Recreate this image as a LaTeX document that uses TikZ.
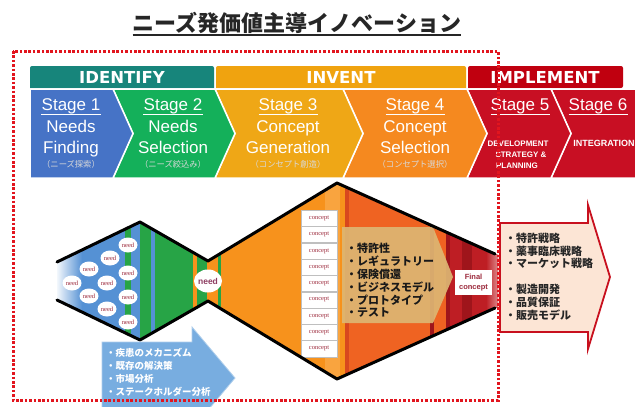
\documentclass[tikz,border=0pt]{standalone}
\usepackage{fontspec}
\setmainfont{Liberation Sans}
\newfontfamily\jp{Noto Sans CJK JP}
\newfontfamily\dvs{DejaVu Sans}
\newfontfamily\lser{Liberation Serif}
\usetikzlibrary{shapes.geometric}
\definecolor{hteal}{HTML}{17857B}
\definecolor{horange}{HTML}{F0A30F}
\definecolor{hred}{HTML}{C0000F}
\definecolor{sblue}{HTML}{4673C6}
\definecolor{sgreen}{HTML}{14B05A}
\definecolor{syellow}{HTML}{EFA716}
\definecolor{sorange}{HTML}{F5891F}
\definecolor{sred}{HTML}{C80F23}
\definecolor{fblue}{HTML}{5591D4}
\definecolor{fgreen}{HTML}{27A446}
\definecolor{forange}{HTML}{F7921C}
\definecolor{forangeL}{HTML}{F9A43F}
\definecolor{fred}{HTML}{EF6322}
\definecolor{fdark}{HTML}{D8471E}
\definecolor{fcrim}{HTML}{BE1E24}
\definecolor{fdeep}{HTML}{9F151B}
\definecolor{tanc}{HTML}{DDB673}
\definecolor{needred}{HTML}{9C2A3C}
\definecolor{needmauve}{HTML}{8E3E62}
\definecolor{pinkf}{HTML}{FCE5D5}
\definecolor{pinkb}{HTML}{C8101E}
\definecolor{barrow}{HTML}{78ADE0}
\definecolor{dotred}{HTML}{E2151E}
\tikzset{
  hdr/.style={font=\dvs\bfseries\fontsize{16.5}{18}\selectfont, text=white, inner sep=0pt},
  chev/.style={draw=white, line width=1.5pt, line join=miter},
  stg/.style={font=\fontsize{17}{20}\selectfont, text=white, inner sep=0pt},
  stgjp/.style={font=\jp\fontsize{8.3}{9}\selectfont, text=white!85!black, inner sep=0pt},
  stgsmall/.style={font=\bfseries\fontsize{8}{9}\selectfont, text=white, inner sep=0pt},
  uline/.style={draw=white, line width=1.1pt},
  needsm/.style={ellipse, fill=white, inner sep=0pt, minimum width=19pt, minimum height=15pt, font=\lser\fontsize{6.5}{7}\selectfont, text=needred},
  cbox/.style={rectangle, fill=white, draw=black!25, line width=.4pt, minimum width=36pt, minimum height=16.3pt, inner sep=0pt, font=\lser\fontsize{6.5}{7}\selectfont, text=needred},
  outline/.style={line width=3pt, line join=round, line cap=round, draw=black},
  tantext/.style={font=\jp\bfseries\fontsize{11}{12}\selectfont, text=black!90, inner sep=0pt, anchor=west},
  bluetext/.style={font=\jp\bfseries\fontsize{9.5}{11}\selectfont, text=white, inner sep=0pt, anchor=west},
  pinktext/.style={font=\jp\bfseries\fontsize{11}{12}\selectfont, text=black!85, inner sep=0pt, anchor=west}
}
\newcommand\stagelabel[6]{%
  \node[stg, anchor=base] (#1a) at (#2,110) {#3};
  \draw[uline] ([yshift=-4.8pt]#1a.base west) -- ([yshift=-4.8pt]#1a.base east);
  \node[stg, anchor=base] (#1b) at (#2,132) {#4};
  \node[stg, anchor=base] (#1c) at (#2,153) {#5};
  \node[stgjp, anchor=base] (#1d) at (#2,167) {#6};}
\begin{document}
\begin{tikzpicture}[x=1pt,y=-1pt]
\useasboundingbox (0,0) rectangle (635,407);
\begin{scope}
\clip (0,0) rectangle (635,407);
\fill[white] (0,0) rectangle (635,407);

% title
\node[font=\jp\bfseries\fontsize{22}{24}\selectfont, text=black!85, anchor=base, inner sep=0pt] (title) at (297,31) {ニーズ発価値主導イノベーション};
\draw[line width=1.3pt, black!85] ([yshift=-4pt]title.base west) -- ([yshift=-4pt]title.base east);

% header bars
\fill[hteal] (30,88) [rounded corners=2pt] -- (30,66) -- (214,66) [sharp corners] -- (214,88) -- cycle;
\fill[horange] (216,88) [rounded corners=2pt] -- (216,66) -- (466,66) [sharp corners] -- (466,88) -- cycle;
\fill[hred] (468,88) [rounded corners=2pt] -- (468,66) -- (623,66) -- (623,88) [sharp corners] -- cycle;
\node[hdr] (hid) at (122,77) {IDENTIFY};
\node[hdr] (hin) at (341,77) {INVENT};
\node[hdr] (him) at (545,77) {IMPLEMENT};

% chevrons
\path[chev, fill=sred] (551,89) -- (640,89) -- (640,178) -- (551,178) -- (571,133.5) -- cycle;
\path[chev, fill=sred] (467,89) -- (551,89) -- (571,133.5) -- (551,178) -- (467,178) -- (487,133.5) -- cycle;
\path[chev, fill=sorange] (343,89) -- (467,89) -- (487,133.5) -- (467,178) -- (343,178) -- (363,133.5) -- cycle;
\path[chev, fill=syellow] (215,89) -- (343,89) -- (363,133.5) -- (343,178) -- (215,178) -- (235,133.5) -- cycle;
\path[chev, fill=sgreen] (113,89) -- (215,89) -- (235,133.5) -- (215,178) -- (113,178) -- (133,133.5) -- cycle;
\path[chev, fill=sblue] (30,89) -- (113,89) -- (133,133.5) -- (113,178) -- (30,178) -- cycle;

\stagelabel{s1}{71}{Stage 1}{Needs}{Finding}{（ニーズ探索）}
\stagelabel{s2}{173}{Stage 2}{Needs}{Selection}{（ニーズ絞込み）}
\stagelabel{s3}{288}{Stage 3}{Concept}{Generation}{（コンセプト創造）}
\stagelabel{s4}{415}{Stage 4}{Concept}{Selection}{（コンセプト選択）}
\node[stg, anchor=base] (s5a) at (520,110) {Stage 5};
\draw[uline] ([yshift=-4.8pt]s5a.base west) -- ([yshift=-4.8pt]s5a.base east);
\node[stgsmall, anchor=base] (s5b) at (518,146) {DEVELOPMENT};
\node[stgsmall, anchor=base] (s5c) at (521,157) {STRATEGY \&};
\node[stgsmall, anchor=base] (s5d) at (517,168) {PLANNING};
\node[stg, anchor=base] (s6a) at (598,110) {Stage 6};
\draw[uline] ([yshift=-4.8pt]s6a.base west) -- ([yshift=-4.8pt]s6a.base east);
\node[stgsmall, anchor=base, font=\bfseries\fontsize{9}{10}\selectfont] (s6b) at (604,146) {INTEGRATION};

% funnel
\begin{scope}
\clip (57,262) -- (140,222) -- (208,261) -- (337,183) -- (498,255) -- (498,307) -- (337,379) -- (208,301) -- (140,340) -- (57,300) -- cycle;
\fill[fblue] (50,150) rectangle (141,400);
\shade[left color=white, right color=fblue] (55,150) rectangle (82,400);
\fill[fgreen] (125,150) rectangle (131,400);
\fill[fgreen] (140,150) rectangle (208,400);
\fill[fblue] (151,150) rectangle (155,400);
\fill[forange] (193,150) rectangle (197,400);
\fill[forange] (207,150) rectangle (500,400);
\fill[fgreen] (218,150) rectangle (221,400);
\fill[forangeL] (325,150) rectangle (340,400);
\fill[fdark] (345,150) rectangle (349,400);
\fill[fred] (349,150) rectangle (430,400);
\fill[fdeep] (430,150) rectangle (434,400);
\fill[fred] (434,150) rectangle (446,400);
\fill[fdeep] (446,150) rectangle (450,400);
\fill[fcrim] (450,150) rectangle (500,400);
\fill[fdeep] (462,150) rectangle (472,400);
\shade[left color=fcrim, right color=fcrim!45!white] (486,150) rectangle (500,400);
\end{scope}

% needs
\node[needsm] (n1) at (128,245) {need};
\node[needsm] (n2) at (110,258) {need};
\node[needsm] (n3) at (89,269) {need};
\node[needsm] (n4) at (128,273) {need};
\node[needsm] (n5) at (72,283) {need};
\node[needsm] (n6) at (107,283) {need};
\node[needsm] (n7) at (128,297) {need};
\node[needsm] (n8) at (89,296) {need};
\node[needsm] (n9) at (107,309) {need};
\node[needsm] (n10) at (128,322) {need};
\node[ellipse, fill=white, inner sep=0pt, minimum width=27pt, minimum height=23pt, font=\bfseries\fontsize{8.5}{9}\selectfont, text=needmauve] (nbig) at (208,281) {need};

% concept boxes
\foreach \i in {0,...,8} {
  \node[cbox] (c\i) at (319,218.2+\i*16.33) {concept};
}

% tan arrow
\fill[tanc, opacity=.92] (342,227) -- (433,227) -- (453,277) -- (433,323) -- (342,323) -- cycle;
\node[tantext] (t1) at (346,248) {・特許性};
\node[tantext] (t2) at (346,261) {・レギュラトリー};
\node[tantext] (t3) at (346,274) {・保険償還};
\node[tantext] (t4) at (346,287) {・ビジネスモデル};
\node[tantext] (t5) at (346,300) {・プロトタイプ};
\node[tantext] (t6) at (346,313) {・テスト};

% final concept
\node[fill=white, minimum width=37pt, minimum height=25pt, inner sep=0pt, align=center, font=\bfseries\fontsize{7.5}{9.5}\selectfont, text=needred] (final) at (473.5,282.5) {Final\\concept};

% outlines
\draw[outline] (57,262) -- (140,222) -- (208,261) -- (337,183) -- (495,254);
\draw[outline] (57,300) -- (140,340) -- (208,301) -- (337,379) -- (495,308);

% blue arrow
\path[fill=barrow, draw=barrow!60!white, line width=.8pt] (102,342) -- (192,342) -- (192,327) -- (235,378) -- (192,429) -- (192,414) -- (102,414) -- cycle;
\node[bluetext] (b1) at (106,353) {・疾患のメカニズム};
\node[bluetext] (b2) at (106,366) {・既存の解決策};
\node[bluetext] (b3) at (106,379) {・市場分析};
\node[bluetext] (b4) at (106,392) {・ステークホルダー分析};

% pink arrow
\path[fill=pinkf, draw=pinkb, line width=1.8pt, line join=miter] (500,223) -- (588,223) -- (588,205) -- (610,277) -- (588,349) -- (588,332) -- (500,332) -- cycle;
\node[pinktext] (p1) at (505,238) {・特許戦略};
\node[pinktext] (p2) at (505,251) {・薬事臨床戦略};
\node[pinktext] (p3) at (505,263) {・マーケット戦略};
\node[pinktext] (p4) at (505,289) {・製造開発};
\node[pinktext] (p5) at (505,302) {・品質保証};
\node[pinktext] (p6) at (505,315) {・販売モデル};

% dotted border
\draw[dotred, line width=3pt, dash pattern=on 2.6pt off 1.8pt] (13,51) rectangle (498,400);
\end{scope}
\end{tikzpicture}
\end{document}
